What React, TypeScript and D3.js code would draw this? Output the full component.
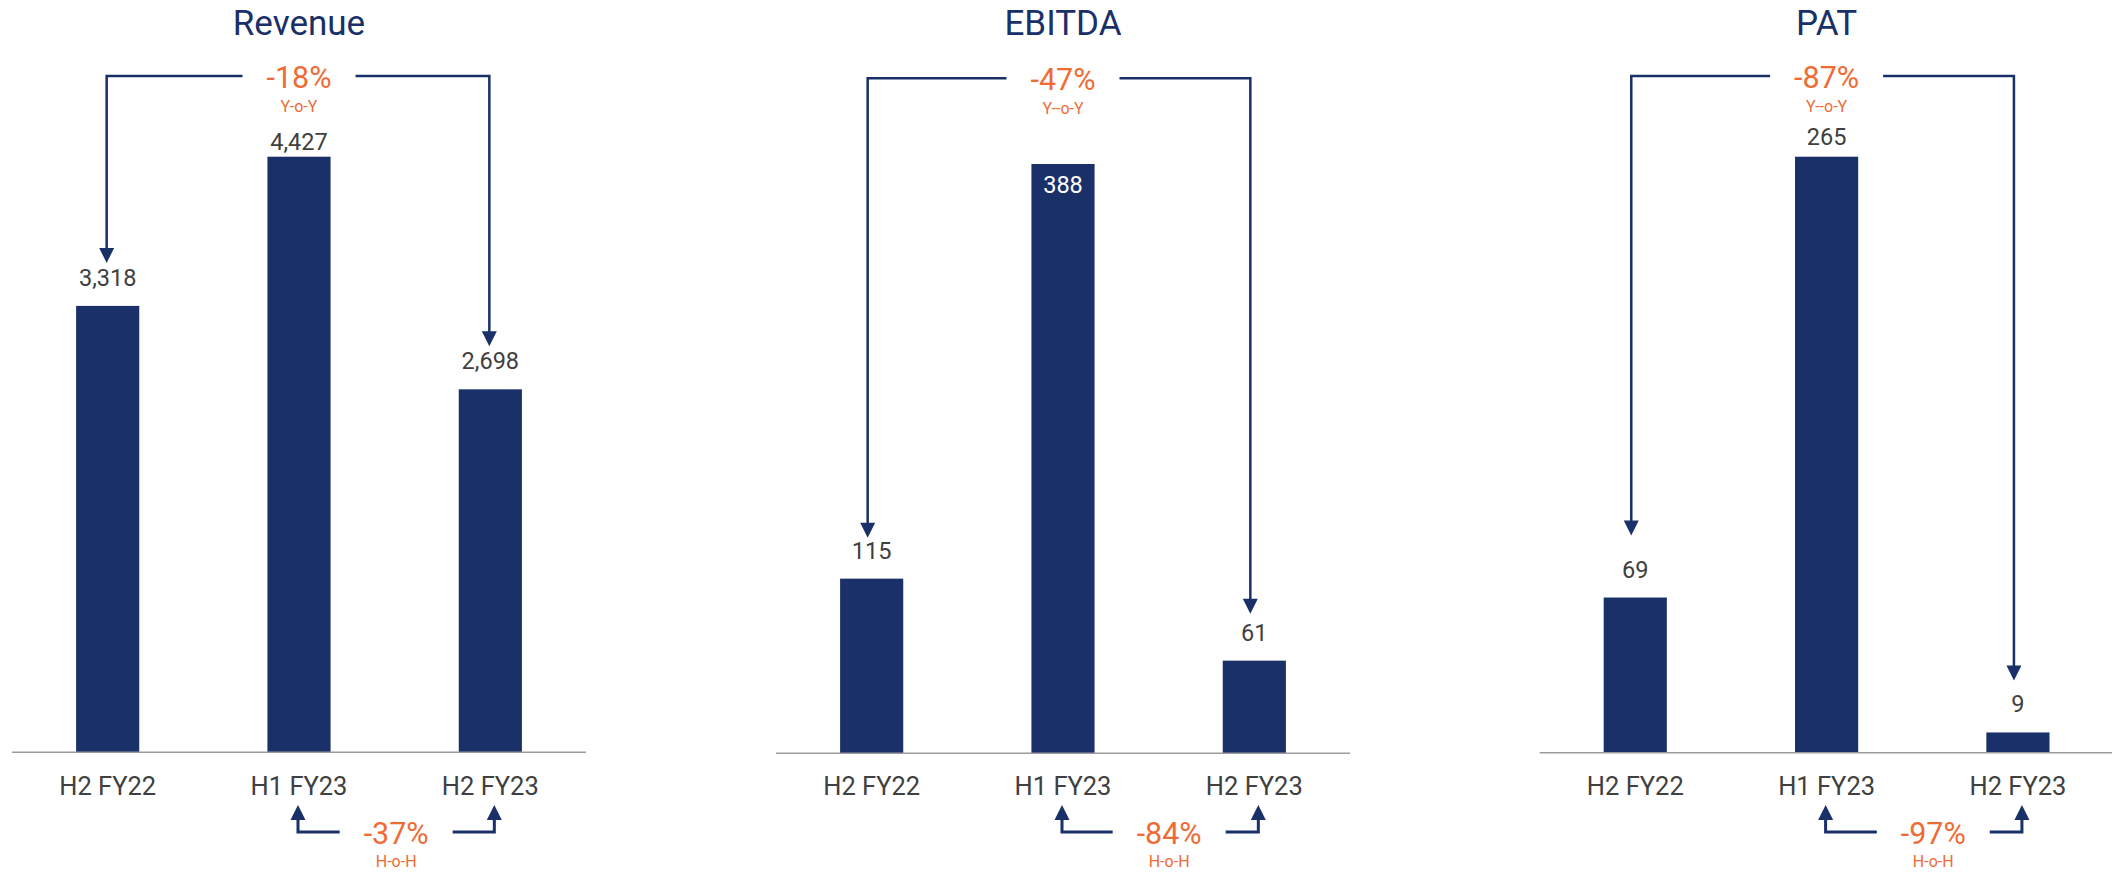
import React from "react";
import * as d3 from "d3";

// Half-year figures per metric
const categories = ["H2 FY22", "H1 FY23", "H2 FY23"];
const revenueValues = [3318, 4427, 2698];
const ebitdaValues = [115, 388, 61];
const patValues = [69, 265, 9];

const panelTitles = ["Revenue", "EBITDA", "PAT"];
const yoyChanges = ["-18%", "-47%", "-87%"];
const yoyTags = ["Y-o-Y", "Y--o-Y", "Y--o-Y"];
const hohChanges = ["-37%", "-84%", "-97%"];
const hohTags = ["H-o-H", "H-o-H", "H-o-H"];

const seriesList = [revenueValues, ebitdaValues, patValues];

const NAVY = "#1a3068";
const ORANGE = "#ef6b35";
const TEXT = "#404040";
const AXIS = "#9c9c9c";
const FONT = "Roboto, 'Noto Sans', sans-serif";

const W = 2112;
const H = 872;

// Layout of each small chart
const layouts = [
  { x0: 12, x1: 586, axisEnd: 586, base: 752.3, top: 156.7, bracketY: 76, bracketDx: -1, lift: [43, 43], peakInside: false, peakGap: 6.7, hohDx: 0 },
  { x0: 776, x1: 1350, axisEnd: 1350, base: 753.3, top: 164, bracketY: 78.3, bracketDx: -4, lift: [41, 47], peakInside: true, peakGap: -29.3, hohDx: 9 },
  { x0: 1539.6, x1: 2113.6, axisEnd: 2112, base: 752.7, top: 156.7, bracketY: 76, bracketDx: -4, lift: [62, 52], peakInside: false, peakGap: 11.7, hohDx: 9.5 },
];

const fmt = d3.format(",");
const HEAD = 15;
const HALF_GAP = 56.5;

function downHead(x: number, y: number) {
  return `M${x - HEAD / 2},${y - HEAD} L${x + HEAD / 2},${y - HEAD} L${x},${y} Z`;
}
function upHead(x: number, y: number) {
  return `M${x - HEAD / 2},${y + HEAD} L${x + HEAD / 2},${y + HEAD} L${x},${y} Z`;
}

function Panel({ idx }: { idx: number }) {
  const values = seriesList[idx];
  const L = layouts[idx];
  const x = d3.scaleBand<string>().domain(categories).range([L.x0, L.x1]).paddingInner(0.67).paddingOuter(0.335);
  const maxV = d3.max(values) as number;
  const y = d3.scaleLinear().domain([0, maxV]).range([L.base, L.top]);
  const bw = x.bandwidth();
  const cx = (c: string) => (x(c) as number) + bw / 2;
  const peakIdx = values.indexOf(maxV);

  const firstX = cx(categories[0]) + L.bracketDx;
  const lastX = cx(categories[2]) + L.bracketDx;
  const midX = cx(categories[1]);
  const tipL = y(values[0]) - L.lift[0];
  const tipR = y(values[2]) - L.lift[1];
  const by = L.bracketY;

  const bracket = `M${firstX},${tipL - HEAD + 2} V${by} H${midX - HALF_GAP} M${midX + HALF_GAP},${by} H${lastX} V${tipR - HEAD + 2}`;

  const hLeft = cx(categories[1]) - 1;
  const hRight = cx(categories[2]) + 4;
  const hMid = (hLeft + hRight) / 2 + L.hohDx;
  const hLineY = 832;
  const hTip = 805;
  const hoh = `M${hMid - HALF_GAP},${hLineY} H${hLeft} V${hTip + HEAD - 2} M${hMid + HALF_GAP},${hLineY} H${hRight} V${hTip + HEAD - 2}`;

  return (
    <g>
      <text x={midX} y={35} textAnchor="middle" fontFamily={FONT} fontSize={35} fill={NAVY}>
        {panelTitles[idx]}
      </text>

      {values.map((v, i) => (
        <rect key={categories[i]} x={x(categories[i])} y={y(v)} width={bw} height={L.base - y(v)} fill={NAVY} />
      ))}

      <line x1={L.x0} x2={L.axisEnd} y1={L.base} y2={L.base} stroke={AXIS} strokeWidth={1.5} />

      {values.map((v, i) => {
        const isPeak = i === peakIdx;
        const inside = isPeak && L.peakInside;
        const gap = isPeak ? L.peakGap : 20;
        return (
          <text
            key={"v" + categories[i]}
            x={cx(categories[i])}
            y={y(v) - gap}
            textAnchor="middle"
            fontFamily={FONT}
            fontSize={23.5}
            fill={inside ? "#ffffff" : TEXT}
          >
            {fmt(v)}
          </text>
        );
      })}

      {categories.map((c) => (
        <text key={"c" + c} x={cx(c)} y={795} textAnchor="middle" fontFamily={FONT} fontSize={25.5} fill={TEXT}>
          {c}
        </text>
      ))}

      <path d={bracket} fill="none" stroke={NAVY} strokeWidth={2.5} />
      <path d={downHead(firstX, tipL)} fill={NAVY} />
      <path d={downHead(lastX, tipR)} fill={NAVY} />
      <text x={midX} y={by + 12} textAnchor="middle" fontFamily={FONT} fontSize={30.5} fill={ORANGE}>
        {yoyChanges[idx]}
      </text>
      <text x={midX} y={by + 36} textAnchor="middle" fontFamily={FONT} fontSize={16} fill={ORANGE}>
        {yoyTags[idx]}
      </text>

      <path d={hoh} fill="none" stroke={NAVY} strokeWidth={3} />
      <path d={upHead(hLeft, hTip)} fill={NAVY} />
      <path d={upHead(hRight, hTip)} fill={NAVY} />
      <text x={hMid} y={843.5} textAnchor="middle" fontFamily={FONT} fontSize={30.5} fill={ORANGE}>
        {hohChanges[idx]}
      </text>
      <text x={hMid} y={867} textAnchor="middle" fontFamily={FONT} fontSize={16} fill={ORANGE}>
        {hohTags[idx]}
      </text>
    </g>
  );
}

export default function App() {
  return (
    <svg
      width={W}
      height={H}
      viewBox={`0 0 ${W} ${H}`}
      style={{ position: "absolute", left: 0, top: 0, background: "#ffffff" }}
    >
      <rect x={0} y={0} width={W} height={H} fill="#ffffff" />
      {panelTitles.map((t, i) => (
        <Panel key={t} idx={i} />
      ))}
    </svg>
  );
}
